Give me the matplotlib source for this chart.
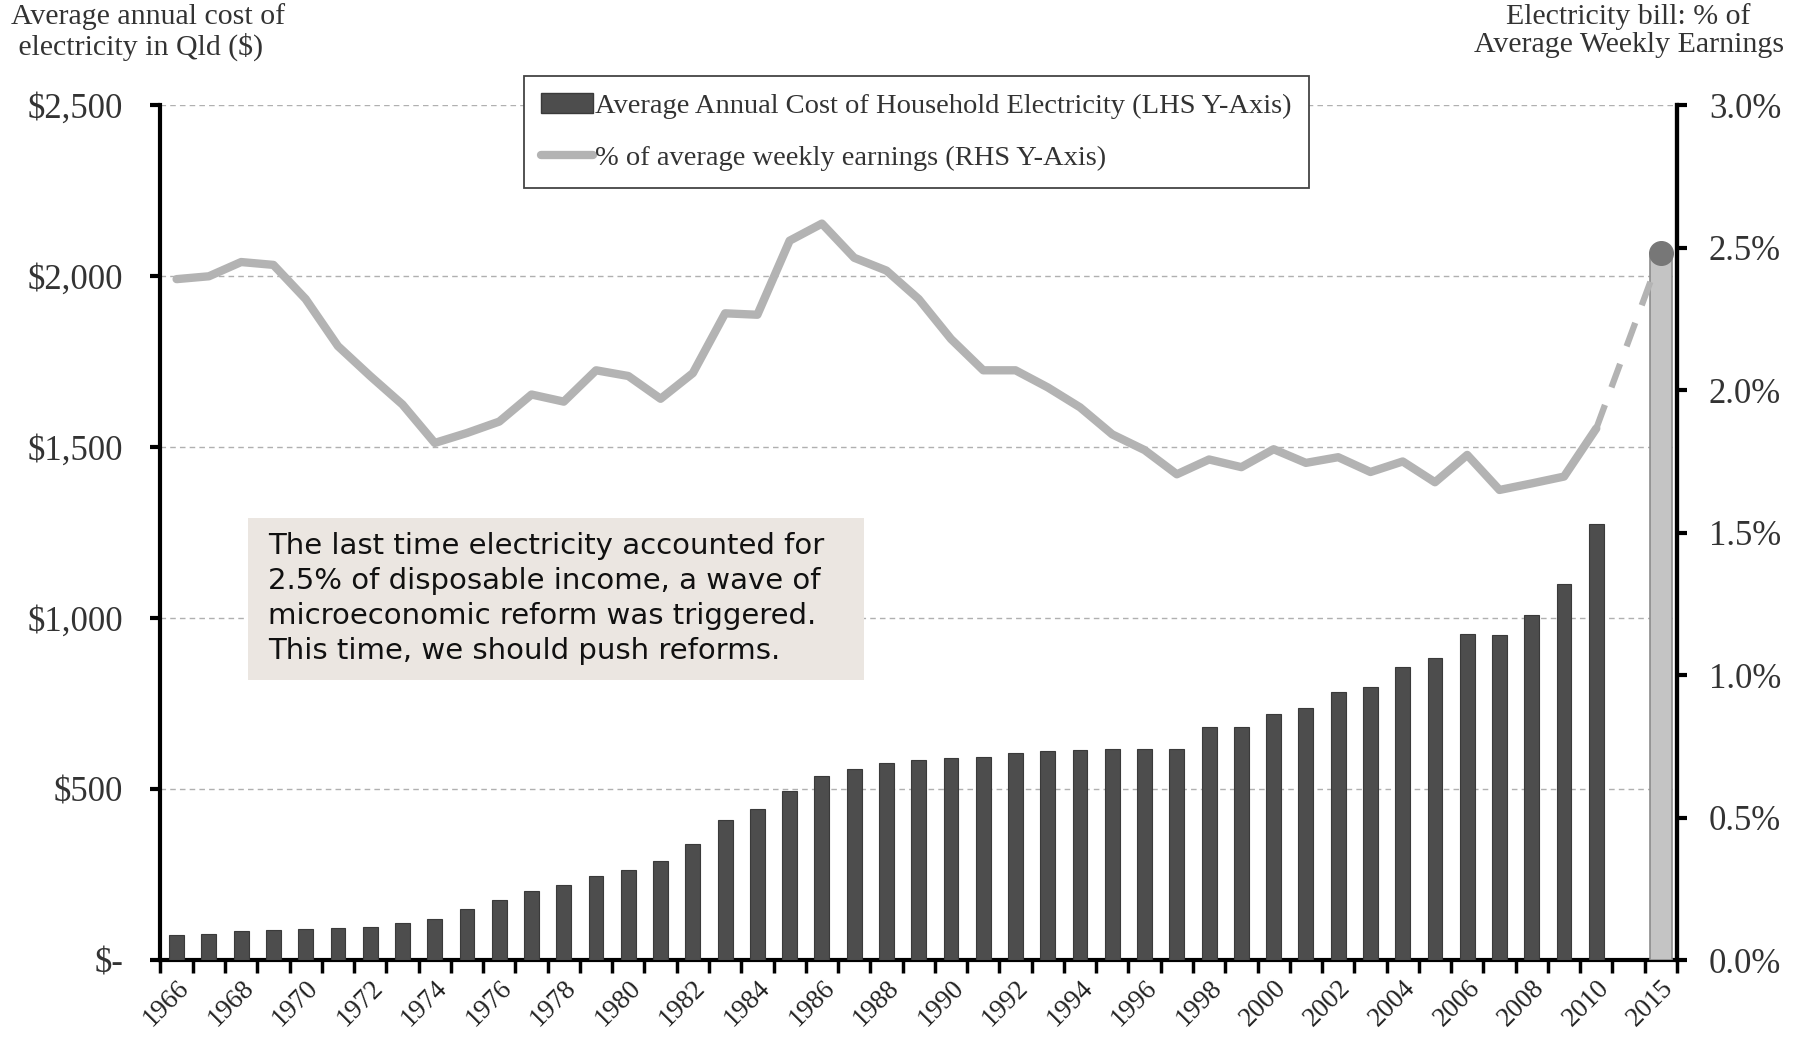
import numpy as np
import matplotlib
matplotlib.use('Agg')
import matplotlib.pyplot as plt
from matplotlib.patches import Patch, Rectangle
from matplotlib.lines import Line2D

# yearly series, 1966-2010, then the 2015 projection after a blank slot
years = [str(y) for y in range(1966, 2011)] + ['', '2015']

cost = [74, 77, 84, 87, 90, 94, 97, 107, 121, 148,
        175, 201, 218, 245, 262, 289, 339, 409, 443, 493,
        537, 560, 577, 584, 591, 594, 607, 611, 614, 617,
        617, 617, 681, 681, 721, 738, 785, 799, 856, 883,
        953, 950, 1010, 1101, 1275]
cost_2015 = 2060

share = [2.39, 2.40, 2.45, 2.44, 2.32, 2.155, 2.05, 1.95, 1.815, 1.85,
         1.89, 1.985, 1.96, 2.07, 2.05, 1.97, 2.06, 2.27, 2.265, 2.525,
         2.585, 2.465, 2.42, 2.32, 2.18, 2.07, 2.07, 2.01, 1.94, 1.845,
         1.79, 1.705, 1.757, 1.73, 1.793, 1.745, 1.765, 1.713, 1.75, 1.677,
         1.773, 1.65, 1.673, 1.697, 1.866]
share_2015 = 2.48

plt.rcParams['font.family'] = 'Liberation Serif'

fig = plt.figure(figsize=(17.97, 10.40), dpi=100)
ax = fig.add_axes([0.0893, 0.0769, 0.8439, 0.8218])
ax2 = ax.twinx()

n = len(years)
x = np.arange(n)
x_hist = x[:len(cost)]

# bars
ax.bar(x_hist, cost, width=0.46, color='#4d4d4d', edgecolor='#3a3a3a', linewidth=0.8, zorder=3)
ax.bar([x[-1]], [cost_2015], width=0.68, color='#c4c4c4', edgecolor='#8c8c8c', linewidth=1.2, zorder=3)

# earnings share line, dashed to the projection
ax2.plot(x_hist, share, color='#b3b3b3', lw=6, solid_capstyle='round', solid_joinstyle='round', zorder=2)
ax2.plot([x_hist[-1], x[-1]], [share[-1], share_2015], color='#b3b3b3', lw=4.5, ls=(0, (4, 3)), zorder=1)
ax2.plot([x[-1]], [share_2015], 'o', color='#777777', ms=17, zorder=4)

ax.set_xlim(-0.5, n - 0.5)
ax.set_ylim(0, 2500)
ax2.set_ylim(0, 3.0)

ax.set_yticks(np.arange(0, 2501, 500))
ax.set_yticklabels(['$-', '$500', '$1,000', '$1,500', '$2,000', '$2,500'])
ax2.set_yticks(np.arange(0, 3.01, 0.5))
ax2.set_yticklabels(['%.1f%%' % v for v in np.arange(0, 3.01, 0.5)])

ax.set_xticks(x[::2])
ax.set_xticklabels(years[::2], rotation=45, ha='right', rotation_mode='anchor')
ax.set_xticks(np.arange(-0.5, n, 1.0), minor=True)
ax.tick_params(axis='x', which='major', length=0, labelsize=19.5, pad=11, colors='#222222')
ax.tick_params(axis='x', which='minor', length=9, width=2.5, direction='out', color='black')
ax.tick_params(axis='y', length=7, width=3, direction='out', labelsize=25, pad=20, labelcolor='#333333')
ax2.tick_params(axis='y', length=7, width=3, direction='out', labelsize=25, pad=16, labelcolor='#333333')

for a in (ax, ax2):
    a.spines['top'].set_visible(False)
    a.spines['left'].set_linewidth(3)
    a.spines['right'].set_linewidth(3)
    a.spines['bottom'].set_linewidth(3)
ax2.spines['left'].set_visible(False)
ax2.spines['bottom'].set_visible(False)

ax.yaxis.grid(True, ls=(0, (4, 3)), color='#b0b0b0', lw=1)
ax.set_axisbelow(True)
ax.set_zorder(ax2.get_zorder() - 1)
ax.patch.set_visible(False)

# axis titles
fig.text(0.006, 0.997, 'Average annual cost of\n electricity in Qld ($)', ha='left', va='top',
         fontsize=21.5, color='#333333', linespacing=1.1)
fig.text(0.9063, 0.997, 'Electricity bill: % of\nAverage Weekly Earnings', ha='center', va='top',
         fontsize=21.5, color='#333333', linespacing=1.1)

handles = [Patch(facecolor='#4d4d4d', edgecolor='#3a3a3a'),
           Line2D([0], [0], color='#b3b3b3', lw=6, solid_capstyle='round')]
leg = ax2.legend(handles, ['Average Annual Cost of Household Electricity (LHS Y-Axis)',
                           '% of average weekly earnings (RHS Y-Axis)'],
                 loc='upper left', bbox_to_anchor=(0.2305, 1.051), fontsize=20.5,
                 frameon=True, fancybox=False, edgecolor='#444444', framealpha=1,
                 handlelength=1.8, handletextpad=0.1, borderpad=0.6, labelspacing=0.9)
leg.get_frame().set_linewidth(1.3)
for t in leg.get_texts():
    t.set_color('#333333')

# callout box
ax2.add_patch(Rectangle((0.0574, 0.328), 0.4066, 0.189, transform=ax2.transAxes,
                        facecolor='#ebe6e1', edgecolor='none', zorder=9))
ax2.text(0.0709, 0.4225, 'The last time electricity accounted for\n2.5% of disposable income, a wave of\n'
         'microeconomic reform was triggered.\nThis time, we should push reforms.',
         transform=ax2.transAxes, ha='left', va='center', fontsize=21,
         family='DejaVu Sans', color='#111111', linespacing=1.32, zorder=10)

fig.savefig('out.png', dpi=100)
